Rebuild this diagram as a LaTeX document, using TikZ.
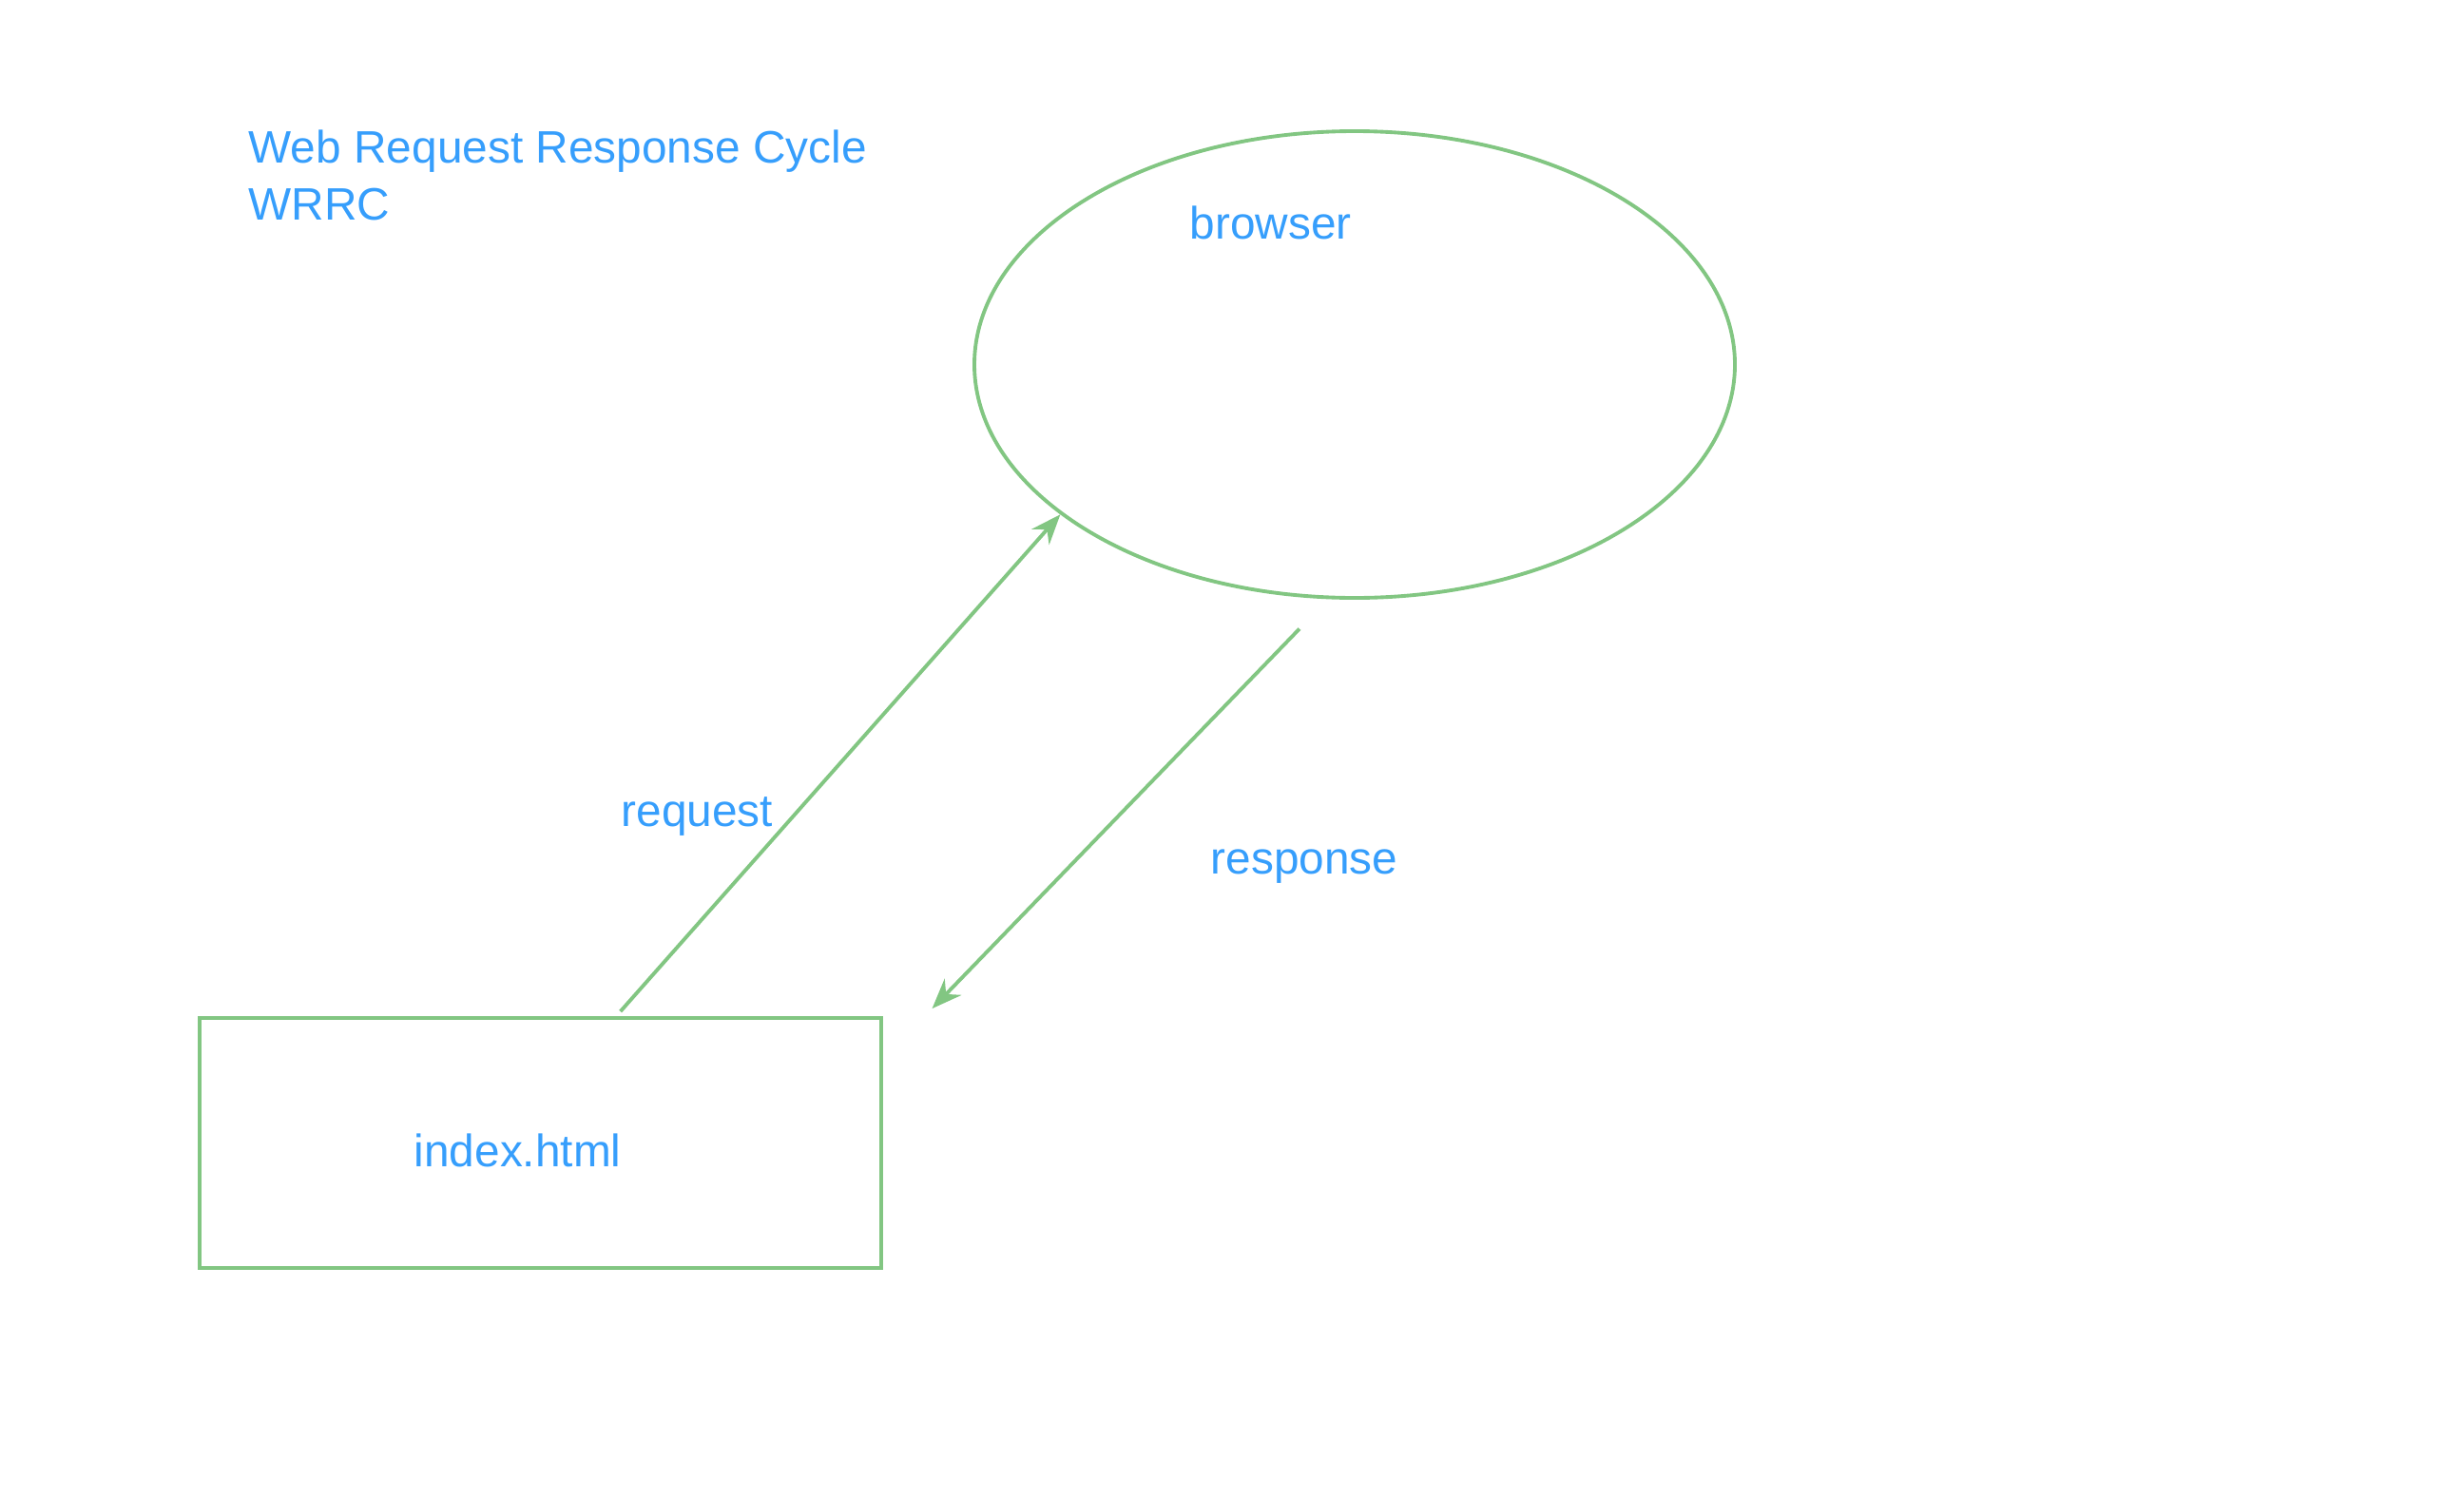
\documentclass[tikz,border=0pt]{standalone}
\usepackage{fontspec}
\setmainfont{Liberation Sans}
\usepackage{tikz}
\usetikzlibrary{shapes, positioning, arrows.meta, calc}
\definecolor{wrrcgreen}{RGB}{130,198,130}
\definecolor{wrrcblue}{RGB}{54,158,252}
\tikzset{
    lbl/.style={inner sep=0, anchor=base west, text=wrrcblue, font=\fontsize{13.6pt}{17pt}\selectfont},
    shapeline/.style={draw=wrrcgreen, line width=1.1pt, inner sep=0},
    flow/.style={draw=wrrcgreen, line width=1.1pt, -{Stealth[length=9pt, width=7pt, inset=3pt]}}
}

\begin{document}
\begin{tikzpicture}
                \useasboundingbox (0, 0) rectangle (25.92, -15.76);

                \node[lbl, align=left] (title) at (2.61, -2.31) {Web Request Response Cycle \\ WRRC};

                \node[shapeline, ellipse, minimum width=8cm, minimum height=4.91cm] (browser) at (14.25, -3.835) {};
                \node[lbl] (browsertext) at (12.51, -2.51) {browser};

                \node[shapeline, rectangle, minimum width=7.17cm, minimum height=2.63cm] (index) at (5.685, -12.025) {};
                \node[lbl] (indextext) at (4.35, -12.27) {index.html};

                \coordinate (reqstart) at ([xshift=4.446cm, yshift=0.05cm]index.north west);
                \coordinate (respstart) at ([xshift=-0.58cm, yshift=-0.306cm]browser.south);
                \coordinate (respend) at ([xshift=0.516cm, yshift=0.08cm]index.north east);

                \draw[flow] (reqstart) -- (browser.207.27);
                \draw[flow] (respstart) -- (respend);

                \node[lbl] (reqtext) at (6.53, -8.69) {request};
                \node[lbl] (resptext) at (12.73, -9.19) {response};
            \end{tikzpicture}
\end{document}
